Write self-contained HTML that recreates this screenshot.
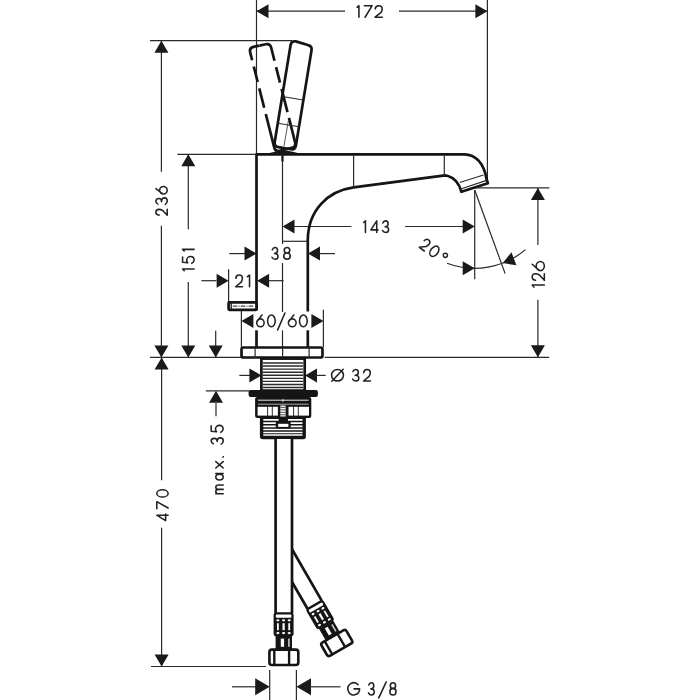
<!DOCTYPE html>
<html><head><meta charset="utf-8"><style>
html,body{margin:0;padding:0;background:#fff;width:700px;height:700px;overflow:hidden}
svg{display:block}
text{font-family:"Liberation Sans",sans-serif}
</style></head><body>
<svg width="700" height="700" viewBox="0 0 700 700" role="img" aria-label="Basin mixer technical drawing: 172, 236, 151, 143, 38, 21, 60/60, 20°, 126, Ø 32, max. 35, 470, G 3/8">
<title>Basin mixer dimension drawing — 172, 236, 151, 143, 38, 21, 60/60, 20°, 126, Ø 32, max. 35, 470, G 3/8</title>
<rect width="700" height="700" fill="#fff"/>
<line x1="256.5" y1="0" x2="256.5" y2="154" stroke="#2a2a2a" stroke-width="1.2"/>
<line x1="487.4" y1="0" x2="487.4" y2="181" stroke="#2a2a2a" stroke-width="1.2"/>
<line x1="256.5" y1="11.2" x2="345" y2="11.2" stroke="#2a2a2a" stroke-width="1.2"/>
<line x1="399" y1="11.2" x2="487.4" y2="11.2" stroke="#2a2a2a" stroke-width="1.2"/>
<polygon points="256.50,11.20 268.50,4.20 268.50,18.20" fill="#1a1a1a"/>
<polygon points="487.40,11.20 475.40,18.20 475.40,4.20" fill="#1a1a1a"/>
<path d="M357.07,7.29 L358.93,5.68 L358.93,17.23 M364.33,5.68 L372.12,5.68 L365.13,17.23 M375.22,8.91 C375.37,6.60 376.89,5.68 378.70,5.68 C380.73,5.68 382.18,6.83 382.18,8.91 C382.18,10.53 381.60,11.45 380.88,12.61 L375.07,17.23 L382.33,17.23" fill="none" stroke="#222" stroke-width="1.55" stroke-linecap="round" stroke-linejoin="round"/>
<line x1="150" y1="40.7" x2="292" y2="40.7" stroke="#2a2a2a" stroke-width="1.2"/>
<line x1="161.4" y1="40.7" x2="161.4" y2="171.7" stroke="#2a2a2a" stroke-width="1.2"/>
<line x1="161.4" y1="225.7" x2="161.4" y2="357.4" stroke="#2a2a2a" stroke-width="1.2"/>
<polygon points="161.40,40.70 168.40,52.70 154.40,52.70" fill="#1a1a1a"/>
<polygon points="161.40,357.40 154.40,345.40 168.40,345.40" fill="#1a1a1a"/>
<path d="M159.05,215.11 C156.78,214.99 155.88,213.74 155.88,212.25 C155.88,210.58 157.01,209.39 159.05,209.39 C160.64,209.39 161.55,209.87 162.69,210.47 L167.22,215.22 L167.22,209.28 M157.92,204.10 C156.44,203.44 155.88,202.33 155.88,201.15 C155.88,199.51 157.24,198.40 158.83,198.40 C160.64,198.40 161.55,199.71 161.55,201.67 C161.55,199.32 162.91,197.88 164.50,197.88 C166.32,197.88 167.22,199.19 167.22,201.02 C167.22,202.46 166.43,203.77 165.30,204.43 M163.42,186.47 C161.32,186.47 159.62,188.14 159.62,190.20 C159.62,192.26 161.32,193.93 163.42,193.93 C165.52,193.93 167.22,192.26 167.22,190.20 C167.22,188.14 165.52,186.47 163.42,186.47 M155.88,188.71 L162.46,193.70" fill="none" stroke="#222" stroke-width="1.55" stroke-linecap="round" stroke-linejoin="round"/>
<line x1="177.4" y1="154.3" x2="256.5" y2="154.3" stroke="#2a2a2a" stroke-width="1.2"/>
<line x1="188.3" y1="154.3" x2="188.3" y2="229.3" stroke="#2a2a2a" stroke-width="1.2"/>
<line x1="188.3" y1="282" x2="188.3" y2="357.4" stroke="#2a2a2a" stroke-width="1.2"/>
<polygon points="188.30,154.30 195.30,166.30 181.30,166.30" fill="#1a1a1a"/>
<polygon points="188.30,357.40 181.30,345.40 195.30,345.40" fill="#1a1a1a"/>
<path d="M184.19,270.73 L182.58,269.07 L194.12,269.07 M182.58,256.91 L182.58,262.25 L187.66,262.85 C186.96,261.98 186.73,260.96 186.73,259.95 C186.73,257.93 188.70,256.57 190.43,256.57 C192.51,256.57 194.12,258.06 194.12,259.95 C194.12,261.30 193.20,262.65 191.81,263.32 M184.19,251.03 L182.58,249.38 L194.12,249.38" fill="none" stroke="#222" stroke-width="1.55" stroke-linecap="round" stroke-linejoin="round"/>
<line x1="215.7" y1="330.7" x2="215.7" y2="357.4" stroke="#2a2a2a" stroke-width="1.2"/>
<polygon points="215.70,357.40 208.70,345.40 222.70,345.40" fill="#1a1a1a"/>
<line x1="150" y1="357.4" x2="241" y2="357.4" stroke="#2a2a2a" stroke-width="1.2"/>
<line x1="324.6" y1="357.4" x2="549.2" y2="357.4" stroke="#2a2a2a" stroke-width="1.2"/>
<line x1="161.6" y1="357.4" x2="161.6" y2="480.3" stroke="#2a2a2a" stroke-width="1.2"/>
<line x1="161.6" y1="527.8" x2="161.6" y2="666.5" stroke="#2a2a2a" stroke-width="1.2"/>
<polygon points="161.60,357.40 168.60,369.40 154.60,369.40" fill="#1a1a1a"/>
<polygon points="161.60,666.50 154.60,654.50 168.60,654.50" fill="#1a1a1a"/>
<line x1="151" y1="666.5" x2="266" y2="666.5" stroke="#2a2a2a" stroke-width="1.2"/>
<path d="M168.12,515.17 L156.78,515.17 L165.63,520.62 L165.63,513.98 M156.78,508.78 L156.78,501.67 L168.12,508.05 M162.45,489.77 C159.32,489.77 156.78,491.40 156.78,493.40 C156.78,495.40 159.32,497.02 162.45,497.02 C165.58,497.02 168.12,495.40 168.12,493.40 C168.12,491.40 165.58,489.77 162.45,489.77" fill="none" stroke="#222" stroke-width="1.55" stroke-linecap="round" stroke-linejoin="round"/>
<line x1="205.8" y1="390.8" x2="249" y2="390.8" stroke="#2a2a2a" stroke-width="1.2"/>
<polygon points="216.00,390.80 223.00,402.80 209.00,402.80" fill="#1a1a1a"/>
<line x1="216" y1="403" x2="216" y2="416.2" stroke="#2a2a2a" stroke-width="1.2"/>
<path d="M223.22,493.73 L215.78,493.73 M218.61,493.73 C216.82,493.73 215.78,492.85 215.78,491.45 C215.78,490.05 216.82,489.35 218.61,489.35 L223.22,489.35 M218.61,489.35 C216.82,489.35 215.78,488.48 215.78,487.16 C215.78,485.76 216.82,484.98 218.61,484.98 L223.22,484.98 M219.50,474.25 C217.44,474.25 215.78,475.52 215.78,477.09 C215.78,478.65 217.44,479.93 219.50,479.93 C221.56,479.93 223.22,478.65 223.22,477.09 C223.22,475.52 221.56,474.25 219.50,474.25 M215.78,473.48 L223.22,473.48 M215.78,468.02 L223.22,461.57 M215.78,461.57 L223.22,468.02 M213.34,443.81 C211.78,443.19 211.18,442.12 211.18,441.00 C211.18,439.44 212.62,438.38 214.31,438.38 C216.24,438.38 217.20,439.62 217.20,441.50 C217.20,439.25 218.65,437.88 220.33,437.88 C222.26,437.88 223.22,439.12 223.22,440.88 C223.22,442.25 222.38,443.50 221.18,444.12 M211.18,425.72 L211.18,431.21 L216.48,431.84 C215.75,430.94 215.51,429.89 215.51,428.85 C215.51,426.76 217.56,425.38 219.37,425.38 C221.54,425.38 223.22,426.90 223.22,428.85 C223.22,430.24 222.26,431.63 220.81,432.32" fill="none" stroke="#222" stroke-width="1.55" stroke-linecap="round" stroke-linejoin="round"/>
<circle cx="223.20" cy="456.90" r="0.95" fill="#222"/>
<line x1="201.4" y1="280.7" x2="216.4" y2="280.7" stroke="#2a2a2a" stroke-width="1.2"/>
<polygon points="228.60,280.70 216.60,287.70 216.60,273.70" fill="#1a1a1a"/>
<polygon points="257.10,280.70 269.10,273.70 269.10,287.70" fill="#1a1a1a"/>
<line x1="268.6" y1="280.7" x2="283.6" y2="280.7" stroke="#2a2a2a" stroke-width="1.2"/>
<line x1="228.6" y1="269.3" x2="228.6" y2="302" stroke="#2a2a2a" stroke-width="1.2"/>
<path d="M235.81,278.34 C235.95,276.01 237.39,275.07 239.10,275.07 C241.02,275.07 242.39,276.24 242.39,278.34 C242.39,279.97 241.84,280.90 241.16,282.06 L235.68,286.73 L242.53,286.73 M247.47,276.71 L249.53,275.07 L249.53,286.73" fill="none" stroke="#222" stroke-width="1.55" stroke-linecap="round" stroke-linejoin="round"/>
<line x1="229.3" y1="253.6" x2="245" y2="253.6" stroke="#2a2a2a" stroke-width="1.2"/>
<polygon points="256.50,253.60 244.50,260.60 244.50,246.60" fill="#1a1a1a"/>
<polygon points="308.00,253.60 320.00,246.60 320.00,260.60" fill="#1a1a1a"/>
<line x1="319.8" y1="253.6" x2="335" y2="253.6" stroke="#2a2a2a" stroke-width="1.2"/>
<path d="M272.28,249.67 C272.88,248.16 273.91,247.57 275.00,247.57 C276.51,247.57 277.54,248.97 277.54,250.60 C277.54,252.47 276.33,253.40 274.52,253.40 C276.69,253.40 278.03,254.80 278.03,256.43 C278.03,258.29 276.81,259.23 275.12,259.23 C273.79,259.23 272.58,258.41 271.97,257.24 M289.77,250.31 C289.77,248.80 288.53,247.57 287.00,247.57 C285.47,247.57 284.23,248.80 284.23,250.31 C284.23,251.82 285.47,253.05 287.00,253.05 C288.53,253.05 289.77,251.82 289.77,250.31 M290.23,256.08 C290.23,254.34 288.78,252.93 287.00,252.93 C285.22,252.93 283.77,254.34 283.77,256.08 C283.77,257.82 285.22,259.23 287.00,259.23 C288.78,259.23 290.23,257.82 290.23,256.08" fill="none" stroke="#222" stroke-width="1.55" stroke-linecap="round" stroke-linejoin="round"/>
<polygon points="282.50,226.50 294.50,219.50 294.50,233.50" fill="#1a1a1a"/>
<line x1="294" y1="226.5" x2="351.4" y2="226.5" stroke="#2a2a2a" stroke-width="1.2"/>
<path d="M363.67,222.49 L365.43,220.88 L365.43,232.42 M376.74,232.42 L376.74,220.88 L370.88,229.88 L378.03,229.88 M382.78,222.95 C383.40,221.45 384.44,220.88 385.55,220.88 C387.09,220.88 388.13,222.26 388.13,223.88 C388.13,225.73 386.90,226.65 385.06,226.65 C387.27,226.65 388.62,228.04 388.62,229.65 C388.62,231.50 387.39,232.42 385.67,232.42 C384.32,232.42 383.09,231.62 382.47,230.46" fill="none" stroke="#222" stroke-width="1.55" stroke-linecap="round" stroke-linejoin="round"/>
<line x1="405.1" y1="226.5" x2="463" y2="226.5" stroke="#2a2a2a" stroke-width="1.2"/>
<polygon points="474.70,226.50 462.70,233.50 462.70,219.50" fill="#1a1a1a"/>
<line x1="474.7" y1="190" x2="474.7" y2="279.3" stroke="#2a2a2a" stroke-width="1.2"/>
<line x1="282.5" y1="154" x2="282.5" y2="244" stroke="#2a2a2a" stroke-width="1.2"/>
<line x1="282.5" y1="263" x2="282.5" y2="312" stroke="#2a2a2a" stroke-width="1.2"/>
<line x1="282.5" y1="330.3" x2="282.5" y2="347.4" stroke="#2a2a2a" stroke-width="1.2"/>
<line x1="282.5" y1="241.3" x2="307.5" y2="241.3" stroke="#2a2a2a" stroke-width="1.2"/>
<line x1="282.5" y1="154" x2="282.5" y2="161.5" stroke="#151515" stroke-width="2.2"/>
<line x1="474.7" y1="190" x2="505.1279115846545" y2="273.6" stroke="#2a2a2a" stroke-width="1.2"/>
<path d="M447.02,263.25 A78.3,78.3 0 0 0 525.45,249.63" fill="none" stroke="#2a2a2a" stroke-width="1.2"/>
<polygon points="474.70,268.30 462.70,275.30 462.70,261.30" fill="#1a1a1a"/>
<polygon points="502.76,263.10 511.45,252.26 516.47,265.33" fill="#1a1a1a"/>
<path d="M424.23,240.73 C425.68,238.95 427.28,238.98 428.54,239.90 C429.96,240.93 430.29,242.59 429.08,244.26 C428.14,245.56 427.20,246.00 426.02,246.56 L419.28,247.33 L424.34,251.00 M437.41,253.42 C439.27,250.87 439.43,247.81 437.76,246.60 C436.10,245.39 433.24,246.49 431.38,249.05 C429.53,251.60 429.37,254.66 431.03,255.87 C432.70,257.08 435.55,255.98 437.41,253.42" fill="none" stroke="#222" stroke-width="1.55" stroke-linecap="round" stroke-linejoin="round"/>
<circle cx="445.36" cy="255.37" r="2.1" fill="none" stroke="#222" stroke-width="1.4"/>
<line x1="475" y1="187.9" x2="549.3" y2="187.9" stroke="#2a2a2a" stroke-width="1.2"/>
<line x1="537.9" y1="187.9" x2="537.9" y2="245" stroke="#2a2a2a" stroke-width="1.2"/>
<line x1="537.9" y1="299.7" x2="537.9" y2="357.2" stroke="#2a2a2a" stroke-width="1.2"/>
<polygon points="537.90,187.90 544.90,199.90 530.90,199.90" fill="#1a1a1a"/>
<polygon points="537.90,357.20 530.90,345.20 544.90,345.20" fill="#1a1a1a"/>
<path d="M533.88,287.12 L532.18,285.07 L544.33,285.07 M535.58,280.19 C533.15,280.06 532.18,278.66 532.18,277.00 C532.18,275.14 533.39,273.81 535.58,273.81 C537.28,273.81 538.25,274.34 539.47,275.00 L544.33,280.32 L544.33,273.67 M540.25,261.47 C538.01,261.47 536.18,263.52 536.18,266.05 C536.18,268.58 538.01,270.62 540.25,270.62 C542.50,270.62 544.33,268.58 544.33,266.05 C544.33,263.52 542.50,261.47 540.25,261.47 M532.18,264.22 L539.22,270.35" fill="none" stroke="#222" stroke-width="1.55" stroke-linecap="round" stroke-linejoin="round"/>
<line x1="241.4" y1="310.6" x2="241.4" y2="347.4" stroke="#2a2a2a" stroke-width="1.2"/>
<line x1="323.4" y1="309.7" x2="323.4" y2="347.4" stroke="#2a2a2a" stroke-width="1.2"/>
<polygon points="241.40,320.90 253.40,313.90 253.40,327.90" fill="#1a1a1a"/>
<polygon points="323.40,320.90 311.40,327.90 311.40,313.90" fill="#1a1a1a"/>
<path d="M264.12,322.86 C264.12,320.66 262.46,318.89 260.40,318.89 C258.34,318.89 256.68,320.66 256.68,322.86 C256.68,325.05 258.34,326.83 260.40,326.83 C262.46,326.83 264.12,325.05 264.12,322.86 M261.89,314.98 L256.90,321.85 M275.23,320.90 C275.23,317.63 273.51,314.98 271.40,314.98 C269.29,314.98 267.57,317.63 267.57,320.90 C267.57,324.17 269.29,326.83 271.40,326.83 C273.51,326.83 275.23,324.17 275.23,320.90 M284.93,312.98 L277.67,329.93 M296.12,322.86 C296.12,320.66 294.39,318.89 292.25,318.89 C290.11,318.89 288.38,320.66 288.38,322.86 C288.38,325.05 290.11,326.83 292.25,326.83 C294.39,326.83 296.12,325.05 296.12,322.86 M293.80,314.98 L288.61,321.85 M307.23,320.90 C307.23,317.63 305.49,314.98 303.35,314.98 C301.21,314.98 299.47,317.63 299.47,320.90 C299.47,324.17 301.21,326.83 303.35,326.83 C305.49,326.83 307.23,324.17 307.23,320.90" fill="none" stroke="#222" stroke-width="1.55" stroke-linecap="round" stroke-linejoin="round"/>
<line x1="239.3" y1="375.4" x2="250" y2="375.4" stroke="#2a2a2a" stroke-width="1.2"/>
<polygon points="261.40,375.40 249.40,382.40 249.40,368.40" fill="#1a1a1a"/>
<polygon points="305.00,375.40 317.00,368.40 317.00,382.40" fill="#1a1a1a"/>
<line x1="315" y1="375.4" x2="325.7" y2="375.4" stroke="#2a2a2a" stroke-width="1.2"/>
<path d="M343.43,375.25 C343.43,372.06 340.77,369.48 337.50,369.48 C334.23,369.48 331.57,372.06 331.57,375.25 C331.57,378.44 334.23,381.03 337.50,381.03 C340.77,381.03 343.43,378.44 343.43,375.25 M331.81,381.26 L343.19,369.24 M352.89,371.55 C353.51,370.05 354.57,369.48 355.70,369.48 C357.26,369.48 358.33,370.86 358.33,372.48 C358.33,374.33 357.08,375.25 355.20,375.25 C357.45,375.25 358.83,376.64 358.83,378.25 C358.83,380.10 357.58,381.03 355.83,381.03 C354.45,381.03 353.20,380.22 352.57,379.06 M363.71,372.71 C363.85,370.40 365.29,369.48 367.00,369.48 C368.92,369.48 370.29,370.63 370.29,372.71 C370.29,374.33 369.74,375.25 369.06,376.41 L363.57,381.03 L370.43,381.03" fill="none" stroke="#222" stroke-width="1.55" stroke-linecap="round" stroke-linejoin="round"/>
<line x1="269.7" y1="670" x2="269.7" y2="700" stroke="#2a2a2a" stroke-width="1.2"/>
<line x1="296.4" y1="670" x2="296.4" y2="700" stroke="#2a2a2a" stroke-width="1.2"/>
<line x1="232" y1="686.8" x2="256" y2="686.8" stroke="#2a2a2a" stroke-width="1.2"/>
<polygon points="269.70,686.80 255.20,695.30 255.20,678.30" fill="#1a1a1a"/>
<polygon points="296.50,686.80 311.00,678.30 311.00,695.30" fill="#1a1a1a"/>
<line x1="310" y1="686.8" x2="340.6" y2="686.8" stroke="#2a2a2a" stroke-width="1.2"/>
<path d="M358.12,684.79 C356.22,682.61 353.09,682.14 350.68,683.67 C348.27,685.20 347.25,688.29 348.27,691.03 C349.28,693.76 352.04,695.36 354.82,694.82 C357.60,694.29 359.62,691.78 359.62,688.85 L353.99,688.85 M368.76,684.96 C369.34,683.38 370.31,682.78 371.35,682.78 C372.79,682.78 373.77,684.23 373.77,685.93 C373.77,687.88 372.62,688.85 370.89,688.85 C372.96,688.85 374.23,690.31 374.23,692.01 C374.23,693.95 373.07,694.93 371.46,694.93 C370.20,694.93 369.05,694.07 368.47,692.86 M386.23,681.88 L378.77,697.93 M395.59,685.63 C395.59,684.05 394.41,682.78 392.95,682.78 C391.49,682.78 390.31,684.05 390.31,685.63 C390.31,687.21 391.49,688.49 392.95,688.49 C394.41,688.49 395.59,687.21 395.59,685.63 M396.03,691.64 C396.03,689.83 394.65,688.36 392.95,688.36 C391.25,688.36 389.88,689.83 389.88,691.64 C389.88,693.46 391.25,694.93 392.95,694.93 C394.65,694.93 396.03,693.46 396.03,691.64" fill="none" stroke="#222" stroke-width="1.55" stroke-linecap="round" stroke-linejoin="round"/>
<path d="M256.5,310.6 L256.5,154.3 L464.3,154.3 C476,154.3 484,164 486.4,178.6 L487.9,183.2 L461.4,191.8 C459,183 455,178 448,176 L445,175.4 L353.6,187.4 C328,191 308,210 307.8,240 L307.8,311.4" fill="none" stroke="#151515" stroke-width="2.7" stroke-linejoin="round"/>
<line x1="353.6" y1="154.3" x2="353.6" y2="187.4" stroke="#2a2a2a" stroke-width="1.2"/>
<line x1="444.3" y1="154.3" x2="444.3" y2="175.4" stroke="#2a2a2a" stroke-width="1.2"/>
<line x1="459.8" y1="182.5" x2="483.5" y2="175.0" stroke="#2a2a2a" stroke-width="1.2"/>
<line x1="460.8" y1="189" x2="486.5" y2="180.4" stroke="#2a2a2a" stroke-width="1.2"/>
<line x1="256.5" y1="330.3" x2="256.5" y2="347.4" stroke="#151515" stroke-width="2.7"/>
<line x1="307.8" y1="330.3" x2="307.8" y2="347.4" stroke="#151515" stroke-width="2.7"/>
<path d="M262,154.3 C272,153.2 277,150.5 284,150.5 C291,150.5 296,153.2 304,154.3 Z" fill="#151515"/>
<rect x="228.6" y="302.4" width="27.9" height="7.4" rx="0.8" fill="#fff" stroke="#151515" stroke-width="2.7"/>
<line x1="231.2" y1="303.2" x2="231.2" y2="309" stroke="#151515" stroke-width="1.3"/>
<line x1="232.8" y1="306.1" x2="253.5" y2="306.1" stroke="#444" stroke-width="1.1" stroke-dasharray="4.5,1.2,1,1.2"/>
<rect x="241.5" y="347.5" width="81" height="10" rx="2" fill="#fff" stroke="#151515" stroke-width="2.7"/>
<line x1="255.1" y1="347.4" x2="255.1" y2="357.9" stroke="#2a2a2a" stroke-width="1.2"/>
<line x1="282.6" y1="347.4" x2="282.6" y2="357.9" stroke="#2a2a2a" stroke-width="1.2"/>
<line x1="309.1" y1="347.4" x2="309.1" y2="357.9" stroke="#2a2a2a" stroke-width="1.2"/>
<rect x="261.4" y="358.6" width="43.3" height="32" fill="#fff" stroke="#151515" stroke-width="2.7"/>
<line x1="263" y1="363.0" x2="303" y2="363.0" stroke="#2a2a2a" stroke-width="1.4"/>
<line x1="263" y1="366.07" x2="303" y2="366.07" stroke="#2a2a2a" stroke-width="1.4"/>
<line x1="263" y1="369.14" x2="303" y2="369.14" stroke="#2a2a2a" stroke-width="1.4"/>
<line x1="263" y1="372.21" x2="303" y2="372.21" stroke="#2a2a2a" stroke-width="1.4"/>
<line x1="263" y1="375.28" x2="303" y2="375.28" stroke="#2a2a2a" stroke-width="1.4"/>
<line x1="263" y1="378.35" x2="303" y2="378.35" stroke="#2a2a2a" stroke-width="1.4"/>
<line x1="263" y1="381.42" x2="303" y2="381.42" stroke="#2a2a2a" stroke-width="1.4"/>
<line x1="263" y1="384.49" x2="303" y2="384.49" stroke="#2a2a2a" stroke-width="1.4"/>
<line x1="263" y1="387.56" x2="303" y2="387.56" stroke="#2a2a2a" stroke-width="1.4"/>
<rect x="248.6" y="390.1" width="69.3" height="7" rx="2" fill="#151515"/>
<rect x="255.1" y="397" width="56.2" height="21" rx="2" fill="#151515"/>
<line x1="258" y1="400.2" x2="308.5" y2="400.2" stroke="#fff" stroke-width="0.9"/>
<line x1="258" y1="404.2" x2="308.5" y2="404.2" stroke="#bbb" stroke-width="0.9"/>
<rect x="257.6" y="406.8" width="9.60" height="8.8" fill="#fff"/>
<rect x="268.1" y="406.8" width="3.70" height="8.8" fill="#fff"/>
<rect x="272.7" y="406.8" width="5.20" height="8.8" fill="#fff"/>
<rect x="288.5" y="406.8" width="4.70" height="8.8" fill="#fff"/>
<rect x="294.1" y="406.8" width="3.70" height="8.8" fill="#fff"/>
<rect x="298.7" y="406.8" width="10.30" height="8.8" fill="#fff"/>
<rect x="280.4" y="405.5" width="5.2" height="11.5" fill="#fff"/>
<line x1="280.4" y1="407.3" x2="285.6" y2="407.3" stroke="#444" stroke-width="1.0"/>
<line x1="280.4" y1="409.8" x2="285.6" y2="409.8" stroke="#444" stroke-width="1.0"/>
<line x1="280.4" y1="412.3" x2="285.6" y2="412.3" stroke="#444" stroke-width="1.0"/>
<line x1="280.4" y1="414.8" x2="285.6" y2="414.8" stroke="#444" stroke-width="1.0"/>
<line x1="282.9" y1="399" x2="282.9" y2="402" stroke="#fff" stroke-width="0.8"/>
<path d="M259.9,417 L259.9,436.6 Q259.9,439.3 262.6,439.3 L303.2,439.3 Q305.9,439.3 305.9,436.6 L305.9,417 Z" fill="#151515"/>
<line x1="263.3" y1="419.9" x2="302.5" y2="419.9" stroke="#fff" stroke-width="1.7"/>
<line x1="263.3" y1="423.1" x2="302.5" y2="423.1" stroke="#fff" stroke-width="1.7"/>
<line x1="263.3" y1="426.3" x2="302.5" y2="426.3" stroke="#fff" stroke-width="1.7"/>
<line x1="263.3" y1="429.5" x2="302.5" y2="429.5" stroke="#fff" stroke-width="1.7"/>
<line x1="263.3" y1="432.5" x2="302.5" y2="432.5" stroke="#fff" stroke-width="1.7"/>
<line x1="263.3" y1="435.0" x2="302.5" y2="435.0" stroke="#fff" stroke-width="1.7"/>
<rect x="278.6" y="416.5" width="9.4" height="5.5" fill="#151515"/>
<rect x="275.8" y="421.8" width="14.9" height="6.7" rx="1" fill="#151515"/>
<rect x="278.2" y="423.8" width="10.2" height="3.1" fill="#fff"/>
<g transform="rotate(-30 283.7 551.4)"><rect x="275.6" y="551.4" width="16.4" height="61.60000000000002" fill="#fff"/><line x1="275.6" y1="551.4" x2="275.6" y2="613" stroke="#151515" stroke-width="2.7"/><line x1="292" y1="551.4" x2="292" y2="613" stroke="#151515" stroke-width="2.7"/><rect x="273.6" y="612.2" width="20" height="24.2" rx="3" fill="#151515"/><rect x="275.8" y="614.5" width="15.6" height="3.2" rx="1" fill="#fff"/><ellipse cx="277.9" cy="620.3" rx="1.6" ry="1.1" fill="#fff"/><ellipse cx="277.9" cy="633.1" rx="1.6" ry="1.1" fill="#fff"/><ellipse cx="283.6" cy="620.3" rx="1.6" ry="1.1" fill="#fff"/><ellipse cx="283.6" cy="633.1" rx="1.6" ry="1.1" fill="#fff"/><ellipse cx="289.2" cy="620.3" rx="1.6" ry="1.1" fill="#fff"/><ellipse cx="289.2" cy="633.1" rx="1.6" ry="1.1" fill="#fff"/><rect x="277.0" y="623.2" width="1.8" height="7" fill="#fff"/><rect x="282.5" y="623.2" width="2.2" height="7" fill="#fff"/><rect x="288.3" y="623.2" width="1.8" height="7" fill="#fff"/><rect x="275.6" y="636" width="16.4" height="13" fill="#151515"/><rect x="280.8" y="638.6" width="3.3" height="8.2" fill="#fff"/><rect x="288.1" y="638.6" width="1.6" height="8.2" fill="#ccc"/><rect x="269.4" y="649.6" width="28.9" height="15.4" rx="2.5" fill="#fff" stroke="#151515" stroke-width="2.6"/><line x1="274.3" y1="649.6" x2="274.3" y2="665" stroke="#151515" stroke-width="2.4"/><line x1="289.1" y1="649.6" x2="289.1" y2="665" stroke="#151515" stroke-width="2.4"/></g>
<rect x="275.6" y="439" width="16.4" height="174" fill="#fff"/><line x1="275.6" y1="439" x2="275.6" y2="613" stroke="#151515" stroke-width="2.7"/><line x1="292" y1="439" x2="292" y2="613" stroke="#151515" stroke-width="2.7"/><rect x="273.6" y="612.2" width="20" height="24.2" rx="3" fill="#151515"/><rect x="275.8" y="614.5" width="15.6" height="3.2" rx="1" fill="#fff"/><ellipse cx="277.9" cy="620.3" rx="1.6" ry="1.1" fill="#fff"/><ellipse cx="277.9" cy="633.1" rx="1.6" ry="1.1" fill="#fff"/><ellipse cx="283.6" cy="620.3" rx="1.6" ry="1.1" fill="#fff"/><ellipse cx="283.6" cy="633.1" rx="1.6" ry="1.1" fill="#fff"/><ellipse cx="289.2" cy="620.3" rx="1.6" ry="1.1" fill="#fff"/><ellipse cx="289.2" cy="633.1" rx="1.6" ry="1.1" fill="#fff"/><rect x="277.0" y="623.2" width="1.8" height="7" fill="#fff"/><rect x="282.5" y="623.2" width="2.2" height="7" fill="#fff"/><rect x="288.3" y="623.2" width="1.8" height="7" fill="#fff"/><rect x="275.6" y="636" width="16.4" height="13" fill="#151515"/><rect x="280.8" y="638.6" width="3.3" height="8.2" fill="#fff"/><rect x="288.1" y="638.6" width="1.6" height="8.2" fill="#ccc"/><rect x="269.4" y="649.6" width="28.9" height="15.4" rx="2.5" fill="#fff" stroke="#151515" stroke-width="2.6"/><line x1="274.3" y1="649.6" x2="274.3" y2="665" stroke="#151515" stroke-width="2.4"/><line x1="289.1" y1="649.6" x2="289.1" y2="665" stroke="#151515" stroke-width="2.4"/>
<g transform="translate(285.8 149.3) rotate(-14.2)"><path d="M0,-107 L-6.25,-107.25 Q-10.75,-107.25 -10.75,-102.75 L-10.75,-4.5 Q-10.75,0 -6.25,0 L0,0" fill="none" stroke="#151515" stroke-width="2.7" stroke-dasharray="21.5,6.5,16,6.5,20,6.5,200"/><path d="M0,-107 L6.25,-106.75 Q10.75,-106.75 10.75,-102.25 L10.75,-4.5 Q10.75,0 6.25,0 L0,0" fill="none" stroke="#151515" stroke-width="2.7" stroke-dasharray="27,6.5,16,6.5,24,6,200"/></g>
<g transform="translate(284.6 148.2) rotate(9.3)"><path d="M-6.25,-107.25 L6.25,-105.55000000000001 Q10.75,-105.55000000000001 10.75,-101.05000000000001 L10.75,-4.5 Q10.75,0 6.25,0 L-6.25,0 Q-10.75,0 -10.75,-4.5 L-10.75,-102.75 Q-10.75,-107.25 -6.25,-107.25 Z" fill="none" stroke="#151515" stroke-width="2.7"/><line x1="-10.7" y1="-50.6" x2="10.7" y2="-50.6" stroke="#2a2a2a" stroke-width="1"/><line x1="-10.7" y1="-23.6" x2="10.7" y2="-23.6" stroke="#2a2a2a" stroke-width="1"/></g>
<line x1="288.5" y1="120" x2="284" y2="146" stroke="#444" stroke-width="0.9"/>
</svg>
</body></html>
